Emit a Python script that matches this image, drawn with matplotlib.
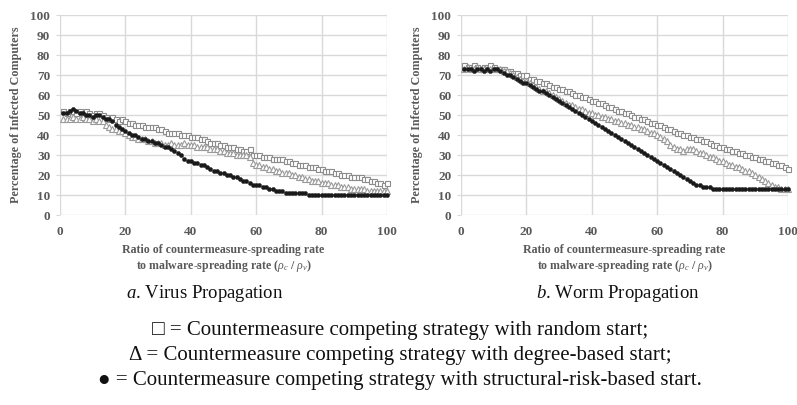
import matplotlib
matplotlib.use("Agg")
import matplotlib.pyplot as plt
import numpy as np

plt.rcParams['font.family'] = ['Liberation Serif', 'DejaVu Sans']
plt.rcParams['mathtext.fontset'] = 'custom'
plt.rcParams['mathtext.rm'] = 'Liberation Serif'
plt.rcParams['mathtext.it'] = 'Liberation Serif:italic'

x_vals = list(range(1, 101))

virus_random = [52, 51, 52, 52, 51, 52, 51, 52, 51, 50,
                51, 51, 50, 49, 48, 49, 48, 47, 48, 47,
                46, 46, 45, 45, 45, 44, 44, 44, 44, 43,
                43, 42, 41, 41, 41, 41, 40, 40, 40, 39,
                39, 39, 38, 38, 37, 36, 36, 36, 35, 35,
                34, 34, 34, 33, 33, 32, 32, 33, 30, 30,
                30, 29, 29, 29, 28, 28, 28, 28, 27, 27,
                26, 26, 25, 25, 25, 24, 24, 24, 23, 23,
                22, 22, 22, 21, 21, 20, 20, 20, 19, 19,
                19, 19, 18, 18, 17, 17, 16, 16, 15, 16]
virus_degree = [48, 48, 48, 49, 48, 48, 49, 48, 48, 47,
                48, 47, 47, 45, 44, 43, 43, 42, 42, 41,
                40, 39, 39, 38, 38, 38, 37, 37, 36, 36,
                36, 35, 35, 36, 35, 35, 35, 36, 35, 35,
                35, 34, 34, 34, 34, 33, 33, 33, 32, 32,
                31, 31, 31, 30, 30, 30, 30, 29, 26, 25,
                25, 24, 24, 23, 23, 22, 22, 21, 21, 21,
                20, 20, 19, 19, 18, 18, 17, 17, 17, 16,
                16, 16, 15, 15, 15, 14, 14, 14, 13, 13,
                13, 13, 13, 12, 12, 12, 12, 12, 12, 12]
virus_risk = [51, 51, 52, 53, 52, 51, 51, 50, 50, 49,
              50, 50, 49, 48, 48, 47, 45, 44, 43, 42,
              41, 40, 40, 39, 38, 38, 37, 37, 36, 36,
              35, 34, 34, 33, 32, 31, 30, 28, 27, 27,
              26, 26, 25, 25, 24, 23, 22, 22, 21, 21,
              20, 20, 19, 19, 18, 17, 17, 16, 15, 15,
              15, 14, 14, 13, 13, 12, 12, 12, 11, 11,
              11, 11, 11, 11, 11, 10, 10, 10, 10, 10,
              10, 10, 10, 10, 10, 10, 10, 10, 10, 10,
              10, 10, 10, 10, 10, 10, 10, 10, 10, 10]

worm_random = [75, 74, 74, 75, 74, 73, 74, 74, 75, 74,
               73, 73, 73, 72, 72, 71, 71, 70, 70, 70,
               68, 68, 67, 67, 66, 66, 65, 64, 64, 63,
               63, 62, 62, 61, 60, 60, 59, 59, 58, 57,
               57, 56, 56, 55, 54, 54, 53, 52, 52, 51,
               51, 50, 49, 49, 48, 48, 47, 46, 46, 45,
               45, 44, 43, 43, 42, 41, 41, 40, 40, 39,
               39, 38, 38, 37, 37, 36, 35, 35, 34, 34,
               33, 33, 32, 32, 31, 31, 30, 30, 29, 29,
               28, 28, 27, 27, 26, 26, 25, 25, 24, 23]
worm_degree = [73, 74, 73, 73, 74, 73, 73, 73, 73, 73,
               73, 73, 72, 72, 71, 70, 69, 68, 67, 67,
               66, 65, 64, 63, 62, 62, 61, 60, 59, 58,
               57, 56, 55, 55, 54, 53, 53, 52, 51, 51,
               50, 50, 49, 49, 48, 48, 47, 47, 46, 46,
               45, 45, 44, 44, 43, 43, 42, 41, 41, 40,
               39, 38, 37, 35, 34, 33, 33, 32, 33, 33,
               33, 32, 31, 31, 30, 29, 29, 28, 27, 27,
               26, 25, 25, 24, 24, 23, 22, 22, 21, 20,
               19, 18, 17, 16, 15, 14, 14, 13, 13, 13]
worm_risk = [73, 73, 73, 72, 73, 73, 72, 73, 72, 73,
             73, 72, 71, 70, 70, 69, 68, 67, 66, 66,
             65, 64, 63, 62, 62, 61, 60, 59, 58, 57,
             56, 55, 54, 53, 52, 51, 50, 49, 48, 47,
             46, 45, 44, 43, 42, 41, 40, 39, 38, 37,
             36, 35, 34, 33, 32, 31, 30, 29, 28, 27,
             26, 25, 24, 23, 22, 21, 20, 19, 18, 17,
             16, 15, 15, 14, 14, 14, 13, 13, 13, 13,
             13, 13, 13, 13, 13, 13, 13, 13, 13, 13,
             13, 13, 13, 13, 13, 13, 13, 13, 13, 13]

ticks = [0, 20, 40, 60, 80, 100]
yticks = [0, 10, 20, 30, 40, 50, 60, 70, 80, 90, 100]
ylabel = "Percentage of Infected Computers"
xlabel = "Ratio of countermeasure-spreading rate\nto malware-spreading rate ($\\rho_c$ / $\\rho_v$)"
captions = ["$\\it{a}$. Virus Propagation", "$\\it{b}$. Worm Propagation"]
legend_lines = ["\u25a1 = Countermeasure competing strategy with random start;",
                "\u0394 = Countermeasure competing strategy with degree-based start;",
                "\u25cf = Countermeasure competing strategy with structural-risk-based start."]

W, H = 797, 405
fig = plt.figure(figsize=(W / 100, H / 100), dpi=100)
txt = '#595959'

panels = [(60, virus_random, virus_degree, virus_risk, captions[0], 205),
          (461, worm_random, worm_degree, worm_risk, captions[1], 618)]
for left_px, sr, sd, sk, cap, cap_x in panels:
    ax = fig.add_axes([left_px / W, 1 - 215 / H, 327 / W, 200 / H])
    ax.set_xlim(0, 100)
    ax.set_ylim(0, 100)
    ax.set_xticks(ticks)
    ax.set_yticks(yticks)
    ax.grid(True, color='#d9d9d9', linewidth=1.0)
    ax.set_axisbelow(True)
    for s in ax.spines.values():
        s.set_visible(False)
    ax.tick_params(axis='y', length=3, color='#d9d9d9', labelsize=9.5, labelcolor=txt, pad=4)
    ax.tick_params(axis='x', length=0, labelsize=9.5, labelcolor=txt, pad=8)
    for lab in ax.get_xticklabels() + ax.get_yticklabels():
        lab.set_fontweight('bold')
    ax.plot(x_vals, sr, linestyle='none', marker='s', markersize=3.6,
            markerfacecolor='white', markeredgecolor='#8c8c8c', markeredgewidth=0.8, clip_on=False)
    ax.plot(x_vals, sd, linestyle='none', marker='^', markersize=3.9,
            markerfacecolor='white', markeredgecolor='#9a9a9a', markeredgewidth=0.8, clip_on=False)
    ax.plot(x_vals, sk, linestyle='none', marker='o', markersize=3.0,
            markerfacecolor='#1a1a1a', markeredgecolor='#1a1a1a', markeredgewidth=0.3, clip_on=False)
    ax.set_ylabel(ylabel, fontsize=8.7, color=txt, fontweight='bold', labelpad=6)
    ax.set_xlabel(xlabel, fontsize=8.6, color=txt, fontweight='bold', labelpad=4, linespacing=1.25)
    fig.text(cap_x / W, 1 - 294 / H, cap, ha='center', va='center', fontsize=13.5, color='#111111')

for i, line in enumerate(legend_lines):
    fig.text(0.502, 1 - (331 + 24.5 * i) / H, line, ha='center', va='center',
             fontsize=15, color='#111111')

fig.savefig('out.png', dpi=100, facecolor='white')
